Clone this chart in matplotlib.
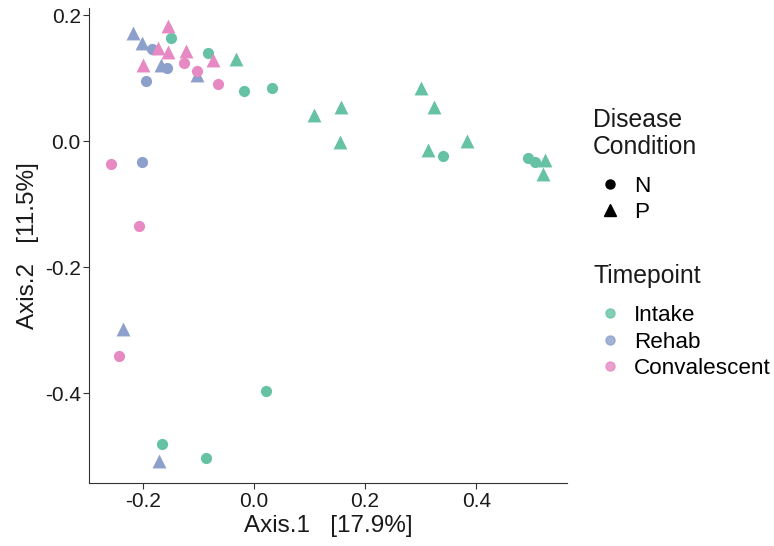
import matplotlib
matplotlib.use('Agg')
import matplotlib.pyplot as plt
from matplotlib.lines import Line2D

plt.rcParams['font.family'] = ['Liberation Sans', 'DejaVu Sans']

# PCoA coordinates
axis1 = [-0.150, -0.083, -0.032, -0.018, 0.032, 0.108, 0.157, 0.155, 0.301, 0.324,
         0.314, 0.341, 0.384, 0.494, 0.506, 0.524, 0.521, 0.022, -0.166, -0.086,
         -0.218, -0.202, -0.184, -0.168, -0.157, -0.103, -0.195, -0.202, -0.236, -0.171,
         -0.155, -0.173, -0.155, -0.123, -0.074, -0.200, -0.126, -0.103, -0.065, -0.258,
         -0.207, -0.243]
axis2 = [0.163, 0.140, 0.130, 0.079, 0.084, 0.041, 0.054, -0.002, 0.084, 0.054,
         -0.014, -0.024, 0.000, -0.027, -0.033, -0.030, -0.052, -0.397, -0.481, -0.503,
         0.171, 0.156, 0.146, 0.121, 0.116, 0.105, 0.095, -0.033, -0.298, -0.508,
         0.183, 0.148, 0.141, 0.143, 0.129, 0.121, 0.124, 0.111, 0.090, -0.037,
         -0.135, -0.341]
condition = ['N', 'N', 'P', 'N', 'N', 'P', 'P', 'P', 'P', 'P',
             'P', 'N', 'P', 'N', 'N', 'P', 'P', 'N', 'N', 'N',
             'P', 'P', 'N', 'P', 'N', 'P', 'N', 'N', 'P', 'P',
             'P', 'P', 'P', 'P', 'P', 'P', 'N', 'N', 'N', 'N',
             'N', 'N']
timepoint = ['Intake'] * 20 + ['Rehab'] * 10 + ['Convalescent'] * 12

timepoints = ['Intake', 'Rehab', 'Convalescent']
colors = {'Intake': '#66C2A5', 'Rehab': '#8DA0CB', 'Convalescent': '#E78AC3'}
markers = {'N': 'o', 'P': '^'}
sizes = {'N': 65, 'P': 100}

W, H = 774, 546
fig = plt.figure(figsize=(W / 100, H / 100), dpi=100)
ax = fig.add_axes([0.115, 0.115, 0.618, 0.870])

for tp in timepoints:
    for cond in ['N', 'P']:
        xs = [x for x, t, c in zip(axis1, timepoint, condition) if t == tp and c == cond]
        ys = [y for y, t, c in zip(axis2, timepoint, condition) if t == tp and c == cond]
        ax.scatter(xs, ys, c=colors[tp], marker=markers[cond], s=sizes[cond], linewidths=0)

ax.set_xlim(-0.297, 0.564)
ax.set_ylim(-0.543, 0.211)
ax.set_xticks([-0.2, 0.0, 0.2, 0.4])
ax.set_yticks([-0.4, -0.2, 0.0, 0.2])
ax.set_xticklabels(['-0.2', '0.0', '0.2', '0.4'])
ax.set_yticklabels(['-0.4', '-0.2', '0.0', '0.2'])
ax.tick_params(labelsize=15, length=4, pad=2, color='#333333', labelcolor='#1a1a1a')
ax.spines['top'].set_visible(False)
ax.spines['right'].set_visible(False)
ax.spines['left'].set_color('#333333')
ax.spines['bottom'].set_color('#333333')
ax.set_xlabel('Axis.1   [17.9%]', fontsize=17.5, labelpad=3, color='#1a1a1a')
ax.set_ylabel('Axis.2   [11.5%]', fontsize=17.5, labelpad=4, color='#1a1a1a')

# legend titles
fig.text(593 / W, 1 - 120 / H, 'Disease', fontsize=17.8, va='center', ha='left', color='#1a1a1a')
fig.text(593 / W, 1 - 147 / H, 'Condition', fontsize=17.8, va='center', ha='left', color='#1a1a1a')
fig.text(593 / W, 1 - 276 / H, 'Timepoint', fontsize=17.8, va='center', ha='left', color='#1a1a1a')

h1 = [Line2D([], [], marker=markers[c], color='black', linestyle='', markersize=6.5 if c == 'N' else 8)
      for c in ['N', 'P']]
leg1 = fig.legend(h1, ['N', 'P'], loc='center left',
                  bbox_to_anchor=(578 / W, 1 - 199.5 / H), frameon=False, fontsize=16.2,
                  handlelength=1.0, handletextpad=0.6, labelspacing=0.2)
h2 = [Line2D([], [], marker='o', color=colors[t], alpha=0.8, linestyle='', markersize=6.5)
      for t in timepoints]
leg2 = fig.legend(h2, timepoints, loc='center left',
                  bbox_to_anchor=(578 / W, 1 - 342 / H), frameon=False, fontsize=16.2,
                  handlelength=1.0, handletextpad=0.6, labelspacing=0.26)

fig.savefig('out.png', dpi=100)
